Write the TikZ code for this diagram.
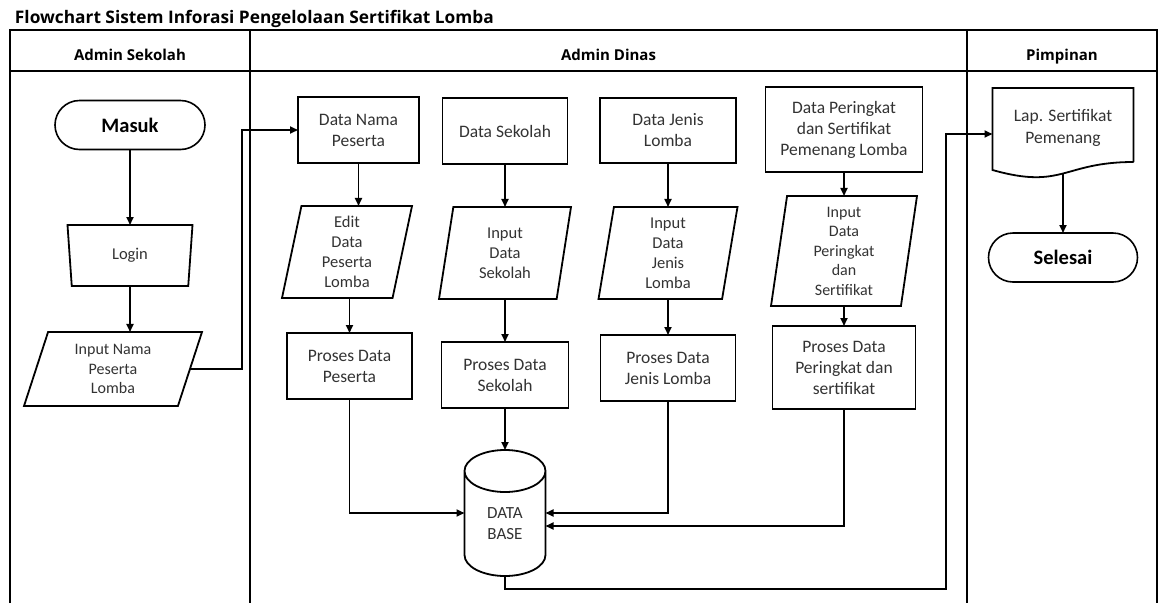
\documentclass[tikz,border=0pt]{standalone}
\usepackage{fontspec}
\setmainfont{Carlito}
\newfontfamily\headfont{Open Sans}
\usetikzlibrary{shapes.geometric,shapes.misc,arrows.meta,calc}

\begin{document}
\begin{tikzpicture}[x=1pt,y=-1pt,
  every node/.style={inner sep=0pt, outer sep=0pt, align=center, text=black!80},
  lane/.style={line width=2pt},
  boxtxt/.style={font=\fontsize{17.5}{21}\selectfont},
  procbox/.style={draw, line width=1.8pt, rectangle, boxtxt},
  iobox/.style={draw, line width=1.8pt, trapezium, trapezium stretches body, font=\fontsize{16.5}{20}\selectfont},
  term/.style={draw, line width=1.6pt, rounded rectangle, minimum width=150pt, minimum height=49pt, font=\bfseries\fontsize{20.5}{24}\selectfont, text=black},
  flow/.style={line width=1.7pt, -{Triangle[length=8pt,width=7pt]}},
  hdr/.style={font=\headfont\bfseries\fontsize{15}{19}\selectfont, text=black, anchor=base}
]
\useasboundingbox (0,0) rectangle (1160,603);
\fill[white] (0,0) rectangle (1160,603);

% title and swimlanes
\node[font=\headfont\bfseries\fontsize{17.3}{20}\selectfont, anchor=base west, text=black] (title) at (15,23) {Flowchart Sistem Inforasi Pengelolaan Sertifikat Lomba};
\draw[lane] (10,603) -- (10,30) -- (1157,30) -- (1157,603);
\draw[lane] (10,71) -- (1157,71);
\draw[lane] (250,30) -- (250,603);
\draw[lane] (967,30) -- (967,603);
\node[hdr] (h1) at (130,60) {Admin Sekolah};
\node[hdr] (h2) at (608.5,60) {Admin Dinas};
\node[hdr] (h3) at (1062,60) {Pimpinan};

% Admin Sekolah
\node[term] (masuk) at (130,125) {Masuk};
\node[draw, line width=1.8pt, trapezium, trapezium left angle=73.3, trapezium right angle=73.3,
      shape border rotate=180, trapezium stretches body, minimum width=125pt, minimum height=61pt,
      font=\fontsize{16.5}{19.5}\selectfont] (login) at (130,255.5) {Login};
\node[iobox, trapezium left angle=64, trapezium right angle=116, minimum width=178pt, minimum height=74pt,
      font=\fontsize{16}{19.5}\selectfont] (inama) at (113,369) {Input Nama\\Peserta\\Lomba};

% Admin Dinas: data
\node[procbox, minimum width=121pt, minimum height=66pt] (dnama) at (358.5,130) {Data Nama\\Peserta};
\node[procbox, minimum width=125pt, minimum height=66pt] (dsek) at (505,131) {Data Sekolah};
\node[procbox, minimum width=136pt, minimum height=65pt] (djen) at (668,130.5) {Data Jenis\\Lomba};
\node[procbox, minimum width=157pt, minimum height=85pt] (dper) at (844,129.5) {Data Peringkat\\dan Sertifikat\\Pemenang Lomba};

% Admin Dinas: input
\node[iobox, trapezium left angle=74.8, trapezium right angle=105.2, minimum width=130pt, minimum height=92pt] (edit) at (347,252) {Edit\\Data\\Peserta\\Lomba};
\node[iobox, trapezium left angle=74.2, trapezium right angle=105.8, minimum width=132pt, minimum height=92pt] (isek) at (505,253) {Input\\Data\\Sekolah};
\node[iobox, trapezium left angle=77.7, trapezium right angle=102.3, minimum width=139pt, minimum height=92pt] (ijen) at (668,253) {Input\\Data\\Jenis\\Lomba};
\node[iobox, trapezium left angle=79.7, trapezium right angle=100.3, minimum width=146pt, minimum height=110pt,
      font=\fontsize{16}{19.5}\selectfont] (iper) at (844,251) {Input\\Data\\Peringkat\\dan\\Sertifikat};

% Admin Dinas: process
\node[procbox, minimum width=125pt, minimum height=66pt] (pp) at (349.5,366) {Proses Data\\Peserta};
\node[procbox, minimum width=127pt, minimum height=66pt] (ps) at (505,375) {Proses Data\\Sekolah};
\node[procbox, minimum width=135pt, minimum height=66pt] (pj) at (668,368) {Proses Data\\Jenis Lomba};
\node[procbox, minimum width=143pt, minimum height=83pt] (pr) at (844,367.5) {Proses Data\\Peringkat dan\\sertifikat};

% database cylinder
\node[minimum width=81pt, minimum height=126pt] (db) at (505,513) {};
\draw[line width=1.8pt] ([yshift=-21pt]db.north west) -- ([yshift=21pt]db.south west)
  arc[start angle=180, end angle=360, x radius=40.5pt, y radius=21pt]
  -- ([yshift=-21pt]db.north east)
  arc[start angle=0, end angle=360, x radius=40.5pt, y radius=21pt];
\node[font=\fontsize{17}{21}\selectfont] (dbtxt) at (505,524) {DATA\\BASE};

% Pimpinan
\node[minimum width=141pt, minimum height=74pt] (lap) at (1063,125) {};
\node[font=\fontsize{17.5}{22}\selectfont] (laptxt) at (1063,128) {Lap. Sertifikat\\Pemenang};
\draw[line width=1.8pt] (lap.south east) -- (lap.north east) -- (lap.north west) -- ([yshift=-8pt]lap.south west)
  .. controls ($(lap.south)+(0,28)$) and (lap.south) .. (lap.south east);
\node[term, minimum width=149pt] (selesai) at (1063,257.5) {Selesai};

% connectors
\coordinate (j1) at ($(dnama.west)+(-56,0)$);
\coordinate (j2) at (946,589);
\coordinate (lapin) at ([yshift=-9pt]lap.west);

\draw[flow] (masuk.south) -- (login.north);
\draw[flow] (login.south) -- (login.south |- inama.north);
\draw[flow] (inama.east) -| (j1) -- (dnama.west);

\draw[flow] (dnama.south) -- (dnama.south |- edit.north);
\draw[flow] (pp.north |- edit.south) -- (pp.north);
\draw[flow] (dsek.south) -- (isek.north);
\draw[flow] (isek.south) -- (ps.north);
\draw[flow] (djen.south) -- (ijen.north);
\draw[flow] (ijen.south) -- (pj.north);
\draw[flow] (dper.south) -- (iper.north);
\draw[flow] (iper.south) -- (pr.north);

\draw[flow] (pp.south) |- (db.west);
\draw[flow] (ps.south) -- (db.north);
\draw[flow] (pj.south) |- (db.east);
\draw[flow] (pr.south) |- ([yshift=-13pt]db.east);

\draw[flow] (db.south) |- (j2) -- (j2 |- lapin) -- (lapin);
\draw[flow] ([yshift=-11.5pt]lap.south) -- (selesai.north);
\end{tikzpicture}
\end{document}
